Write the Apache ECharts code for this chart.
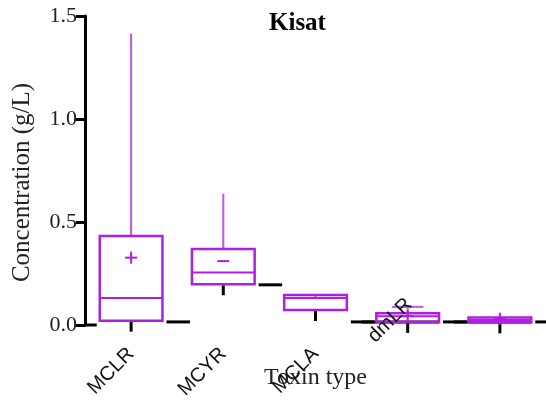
<!DOCTYPE html>
<html>
<head>
<meta charset="utf-8">
<script src="https://cdn.jsdelivr.net/npm/echarts@6/dist/echarts.min.js"></script>
<style>
  html, body { margin: 0; padding: 0; background: #fff; }
  #chart { width: 546px; height: 405px; }
</style>
</head>
<body>
<div id="chart"></div>
<script>
// values
const categories = ['MCLR', 'MCYR', 'MCLA', 'dmLR', 'MCRR'];
const whiskerMax = [1.415, 0.637, 0.131, 0.088, 0.053];
const q3 = [0.432, 0.369, 0.146, 0.057, 0.037];
const medians = [0.131, 0.255, 0.131, 0.043, 0.024];
const q1 = [0.021, 0.198, 0.073, 0.015, 0.013];
const means = [0.327, 0.310, 0.131, 0.043, 0.030];
// level of the broken baseline to the right of each box
const baseLevel = [0.015, 0.195, 0.015, 0.015, 0.015];
const meanShape = ['+', '-', '-', '+', '+'];
const capped = [false, false, true, true, false];

const boxColor = '#b01ee4';
const whiskerColor = '#c451f0';

let boxData = categories.map(function (c, i) {
    return [i, whiskerMax[i], q3[i], medians[i], q1[i], means[i], baseLevel[i]];
});

// the dmLR label sits higher than the others in the original
let xLabels = categories.map(function (c) {
    if (c === 'dmLR') {
        return {value: c, textStyle: {padding: [0, -36, 0, 0], lineHeight: 68}};
    }
    return c;
});

let chart = echarts.init(document.getElementById('chart'));

function renderBox(params, api) {
    let i = api.value(0);
    let band = api.size([1, 0])[0];
    let half = band * 0.34;
    let top = api.coord([i, api.value(1)]);
    let pQ3 = api.coord([i, api.value(2)]);
    let pMed = api.coord([i, api.value(3)]);
    let pQ1 = api.coord([i, api.value(4)]);
    let pMean = api.coord([i, api.value(5)]);
    let pBase = api.coord([i, api.value(6)]);
    let x = top[0];
    let children = [];
    let black = {stroke: '#000', lineWidth: 3};

    // broken baseline pieces
    if (i === 0) {
        let z = api.coord([i, 0]);
        children.push({type: 'line', shape: {x1: x - band / 2, y1: z[1], x2: x - half - 3, y2: z[1]}, style: black});
    }
    let endX = (i === categories.length - 1) ? x + band / 2 : x + band - half - 2;
    children.push({type: 'line', shape: {x1: x + half + 4, y1: pBase[1], x2: endX, y2: pBase[1]}, style: black});
    if (i >= 3) {
        children.push({type: 'line', shape: {x1: x - band / 2, y1: pBase[1], x2: x + half, y2: pBase[1]}, style: black});
    }
    // tick under the box
    children.push({type: 'line', shape: {x1: x, y1: pQ1[1] + 1, x2: x, y2: pQ1[1] + 11}, style: black});

    // upper whisker
    children.push({type: 'line', shape: {x1: x, y1: top[1], x2: x, y2: Math.min(pQ3[1], pQ1[1])},
        style: {stroke: whiskerColor, lineWidth: 2}});
    if (capped[i]) {
        children.push({type: 'line', shape: {x1: x - half / 2, y1: top[1], x2: x + half / 2, y2: top[1]},
            style: {stroke: whiskerColor, lineWidth: 2}});
    }
    // box
    children.push({type: 'rect', shape: {x: x - half, y: pQ3[1], width: half * 2, height: pQ1[1] - pQ3[1]},
        style: {fill: 'none', stroke: boxColor, lineWidth: 2.5}});
    children.push({type: 'line', shape: {x1: x - half, y1: pMed[1], x2: x + half, y2: pMed[1]},
        style: {stroke: boxColor, lineWidth: 2}});
    // mean marker
    children.push({type: 'line', shape: {x1: x - 6, y1: pMean[1], x2: x + 6, y2: pMean[1]},
        style: {stroke: boxColor, lineWidth: 2}});
    if (meanShape[i] === '+') {
        children.push({type: 'line', shape: {x1: x, y1: pMean[1] - 6, x2: x, y2: pMean[1] + 6},
            style: {stroke: boxColor, lineWidth: 2}});
    }
    return {type: 'group', children: children};
}

let option = {
    animation: false,
    title: {
        text: 'Kisat',
        left: 264,
        top: 6,
        textStyle: {fontFamily: 'Liberation Serif', fontSize: 25, fontWeight: 'bold', color: '#000'}
    },
    grid: {left: 85, right: 0, top: 16, bottom: 80, outerBoundsMode: 'none', containLabel: false},
    xAxis: {
        type: 'category',
        data: xLabels,
        name: 'Toxin type',
        nameLocation: 'middle',
        nameGap: 41,
        nameMoveOverlap: false,
        nameTextStyle: {fontFamily: 'Liberation Serif', fontSize: 24, color: '#222'},
        axisLine: {show: false},
        axisTick: {show: false},
        axisLabel: {
            rotate: 45,
            margin: 26,
            fontFamily: 'Liberation Sans',
            fontSize: 20,
            color: '#111',
            formatter: function (v) { return v === 'dmLR' ? v + '\n ' : v; }
        }
    },
    yAxis: {
        type: 'value',
        min: 0,
        max: 1.5,
        interval: 0.5,
        name: 'Concentration (g/L)',
        nameLocation: 'middle',
        nameGap: 50,
        nameMoveOverlap: false,
        nameTextStyle: {fontFamily: 'Liberation Serif', fontSize: 25, color: '#222', padding: [0, 24, 0, 0]},
        axisLine: {show: true, lineStyle: {color: '#000', width: 3}},
        axisTick: {show: true, length: 9, lineStyle: {color: '#000', width: 3}},
        axisLabel: {
            margin: 8,
            fontFamily: 'Liberation Serif',
            fontSize: 22,
            color: '#222',
            formatter: function (v) { return v.toFixed(1); }
        },
        splitLine: {show: false}
    },
    series: [{
        type: 'custom',
        renderItem: renderBox,
        encode: {x: 0, y: [1, 2, 3, 4, 5]},
        data: boxData,
        clip: false,
        z: -1
    }]
};

chart.setOption(option);
</script>
</body>
</html>
